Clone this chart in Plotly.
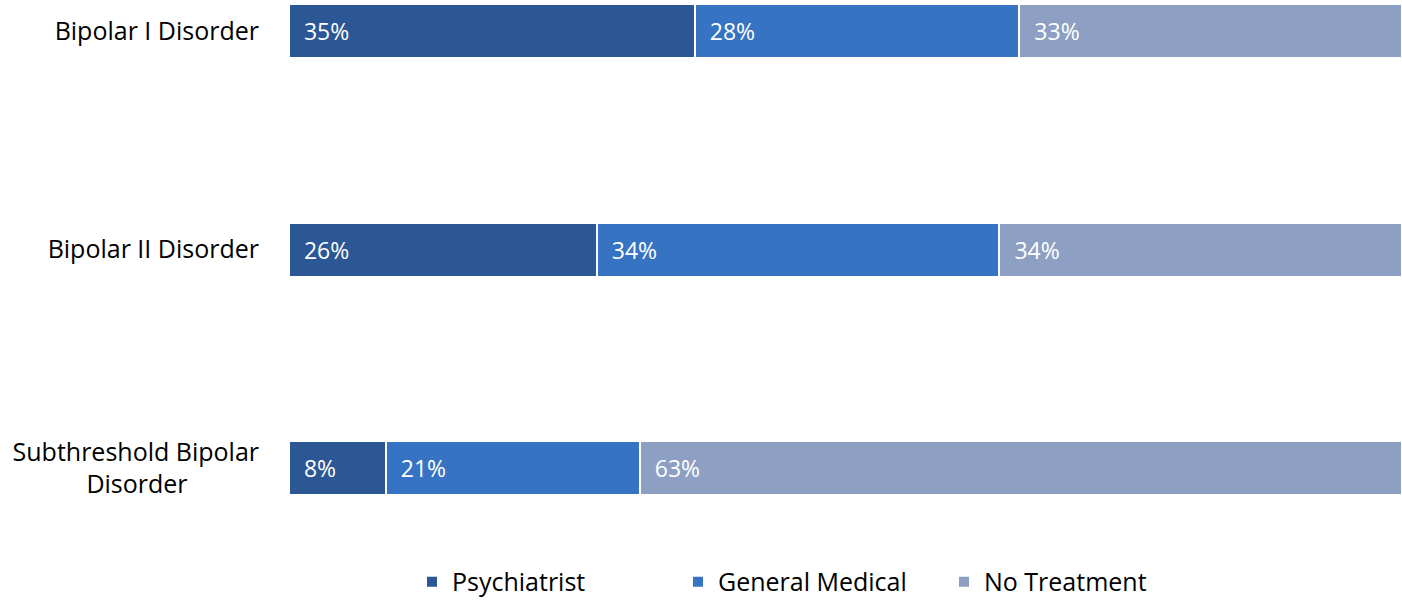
import plotly.graph_objects as go

categories = ["Bipolar I Disorder", "Bipolar II Disorder",
              "Subthreshold Bipolar<br>Disorder" + "\u00a0" * 11]
series_names = ["Psychiatrist", "General Medical", "No Treatment"]
psychiatrist = [35, 26, 8]
general_medical = [28, 34, 21]
no_treatment = [33, 34, 63]
colors = ["#2b5795", "#3673c2", "#8d9fc2"]

FONT = "Open Sans"

fig = go.Figure()
for name, vals, col in zip(series_names, [psychiatrist, general_medical, no_treatment], colors):
    fig.add_trace(go.Bar(
        y=categories, x=vals, name=name, orientation="h",
        marker=dict(color=col, line=dict(color="white", width=2)),
        text=["\u00a0\u00a0%d%%" % v for v in vals],
        textposition="inside", insidetextanchor="start",
        textfont=dict(color="white", size=23, family=FONT),
        constraintext="none",
    ))

fig.update_layout(
    barmode="stack", barnorm="percent",
    width=1402, height=600,
    margin=dict(l=289, r=0, t=0, b=80, autoexpand=False),
    plot_bgcolor="white", paper_bgcolor="white",
    font=dict(family=FONT, size=25, color="black"),
    bargap=0.753,
    showlegend=True,
    legend=dict(orientation="h", x=0.1105, xanchor="left", y=-0.119, yanchor="middle",
                font=dict(size=25), entrywidth=221, entrywidthmode="pixels",
                traceorder="normal"),
    xaxis=dict(visible=False, range=[0, 100], fixedrange=True, automargin=False),
    yaxis=dict(range=[2.238, -0.142], showgrid=False, zeroline=False, automargin=False,
               showline=False, ticks="", ticklabelstandoff=29),
    uniformtext=dict(mode=False),
)
fig.write_html("out.html", config={"displayModeBar": False},
               post_script="document.body.style.margin='0';document.body.style.overflow='hidden';")
